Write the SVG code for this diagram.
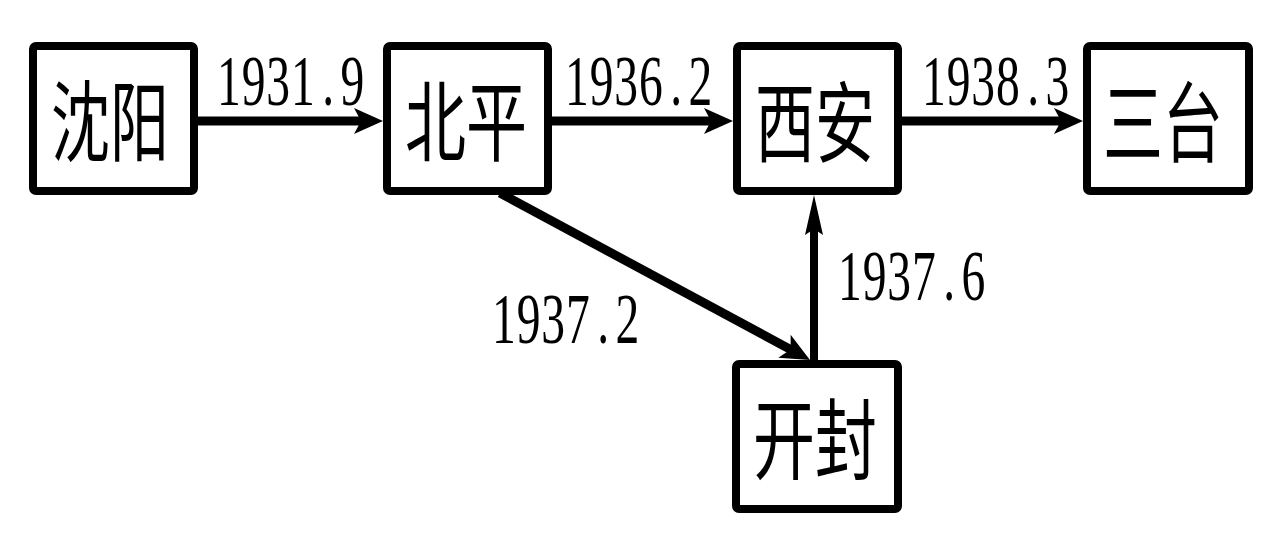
<svg xmlns="http://www.w3.org/2000/svg" width="1280" height="555" viewBox="0 0 1280 555">
<style>
.box{fill:#fff;stroke:#000;stroke-width:8}
.name{font-family:"Noto Sans CJK SC","Noto Sans CJK TC",sans-serif;font-size:88px;fill:#000;text-anchor:middle}
.yr{font-family:"Liberation Serif",serif;font-size:72px;fill:#000}
.edge{stroke:#000;fill:none}
</style>
<defs>
<marker id="ah" markerUnits="userSpaceOnUse" viewBox="-16 -15 34 30" refX="0" refY="0" markerWidth="34" markerHeight="30" orient="auto">
<path d="M15,0 L-14,-13 L-7,0 L-14,13 Z" fill="#000"/>
</marker>
<marker id="ahv" markerUnits="userSpaceOnUse" viewBox="-22 -12 46 24" refX="0" refY="0" markerWidth="46" markerHeight="24" orient="auto">
<path d="M20,0 L-20,-9 L-14,0 L-20,9 Z" fill="#000"/>
</marker>
</defs>
<rect width="1280" height="555" fill="#fff"/>
<g id="connectors">
<line class="edge" x1="198" y1="121" x2="368" y2="121" stroke-width="9" marker-end="url(#ah)"/>
<line class="edge" x1="552" y1="121" x2="718" y2="121" stroke-width="9" marker-end="url(#ah)"/>
<line class="edge" x1="902" y1="121" x2="1068" y2="121" stroke-width="9" marker-end="url(#ah)"/>
<line class="edge" x1="500" y1="193" x2="796.8" y2="352.9" stroke-width="9" marker-end="url(#ah)"/>
<line class="edge" x1="814" y1="360" x2="814" y2="215" stroke-width="8" marker-end="url(#ahv)"/>
<text class="yr" transform="translate(217,105) scale(0.66,1)" x="0 37.4 74.8 112.2 159.3 187" y="0">1931.9</text>
<text class="yr" transform="translate(565,105) scale(0.66,1)" x="0 37.4 74.8 112.2 159.3 187" y="0">1936.2</text>
<text class="yr" transform="translate(922,105) scale(0.66,1)" x="0 37.4 74.8 112.2 159.3 187" y="0">1938.3</text>
<text class="yr" transform="translate(838,300) scale(0.66,1)" x="0 37.4 74.8 112.2 159.3 187" y="0">1937.6</text>
<text class="yr" transform="translate(492,343) scale(0.66,1)" x="0 37.4 74.8 112.2 159.3 187" y="0">1937.2</text>
</g>
<g id="node-shenyang">
<rect class="box" x="33" y="46" width="161" height="145" rx="3"/>
<text class="name" x="110" y="154" textLength="118" lengthAdjust="spacingAndGlyphs">沈阳</text>
</g>
<g id="node-beiping">
<rect class="box" x="387" y="46" width="161" height="145" rx="3"/>
<text class="name" x="466" y="154" textLength="122" lengthAdjust="spacingAndGlyphs">北平</text>
</g>
<g id="node-xian">
<rect class="box" x="737" y="46" width="161" height="145" rx="3"/>
<text class="name" x="815" y="155" textLength="120" lengthAdjust="spacingAndGlyphs">西安</text>
</g>
<g id="node-santai">
<rect class="box" x="1087" y="46" width="162" height="145" rx="3"/>
<text class="name" x="1163" y="155" textLength="120" lengthAdjust="spacingAndGlyphs">三台</text>
</g>
<g id="node-kaifeng">
<rect class="box" x="736" y="364" width="162" height="145" rx="3"/>
<text class="name" x="815" y="472" textLength="124" lengthAdjust="spacingAndGlyphs">开封</text>
</g>
</svg>
